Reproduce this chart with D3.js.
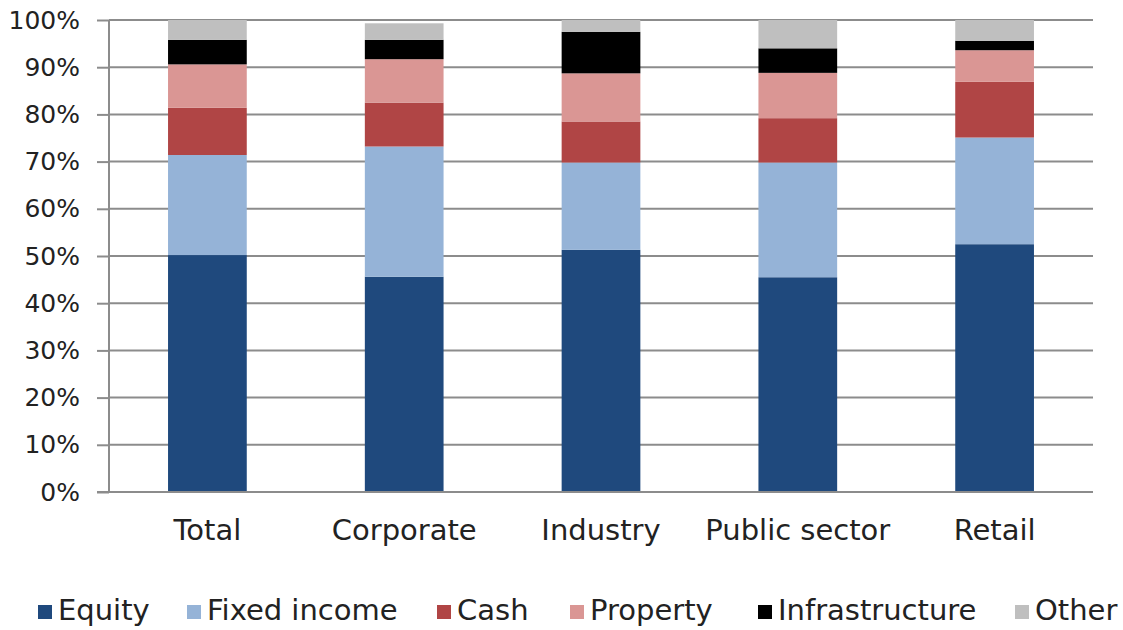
<!DOCTYPE html>
<html><head><meta charset="utf-8">
<script src="https://cdn.jsdelivr.net/npm/d3@7"></script>
<style>body{margin:0;background:#fff;} text{font-family:"DejaVu Sans",Verdana,sans-serif;fill:#222;}</style>
</head><body><svg id="c" width="1123" height="630"></svg>
<script>
const categories = ["Total","Corporate","Industry","Public sector","Retail"];
const seriesNames = ["Equity","Fixed income","Cash","Property","Infrastructure","Other"];
const equity        = [50.2, 45.6, 51.3, 45.5, 52.5];
const fixedIncome   = [21.2, 27.6, 18.5, 24.3, 22.6];
const cash          = [10.0,  9.3,  8.7,  9.4, 11.8];
const property      = [ 9.2,  9.2, 10.2,  9.6,  6.7];
const infrastructure= [ 5.2,  4.1,  8.8,  5.2,  2.0];
const other         = [ 4.2,  3.5,  2.5,  6.0,  4.4];
const yTicks = [0,10,20,30,40,50,60,70,80,90,100];
const colors = ["#1f497d","#95b3d7","#b04545","#da9694","#000000","#bfbfbf"];

const seriesVals = [equity, fixedIncome, cash, property, infrastructure, other];
const rows = categories.map((c,i)=>{const r={cat:c}; seriesNames.forEach((s,j)=>r[s]=seriesVals[j][i]); return r;});
const stack = d3.stack().keys(seriesNames)(rows);

const svg = d3.select("#c");
const L=109, R=1093, T=20, B=492;
const x = d3.scaleBand().domain(categories).range([L,R]).paddingInner(0.6).paddingOuter(0.3);
const y = d3.scaleLinear().domain([0,100]).range([B,T]);

// gridlines
svg.append("g").selectAll("line").data(yTicks.filter(t=>t>0)).join("line")
  .attr("x1",L).attr("x2",R).attr("y1",d=>y(d)).attr("y2",d=>y(d))
  .attr("stroke","#8c8c8c").attr("stroke-width",2);

// bars
svg.append("g").selectAll("g").data(stack).join("g").attr("fill",(d,i)=>colors[i])
  .selectAll("rect").data(d=>d).join("rect")
  .attr("x",d=>x(d.data.cat)).attr("width",x.bandwidth())
  .attr("y",d=>y(d[1])).attr("height",d=>y(d[0])-y(d[1]));

// y axis
const ya = svg.append("g").attr("transform",`translate(${L},0)`)
  .call(d3.axisLeft(y).tickValues(yTicks).tickFormat(d=>d+"%").tickSize(12).tickPadding(17));
ya.select(".domain").attr("stroke","#8c8c8c").attr("stroke-width",2).attr("d",`M0,${T}V${B}`);
ya.selectAll(".tick line").attr("stroke","#8c8c8c").attr("stroke-width",2);
ya.selectAll(".tick text").attr("font-size",25).attr("fill","#222").style("font-family","'DejaVu Sans'");

// x axis
const xa = svg.append("g").attr("transform",`translate(0,${B})`)
  .call(d3.axisBottom(x).tickSize(0));
xa.select(".domain").attr("stroke","#8c8c8c").attr("stroke-width",2).attr("d",`M97,0H${R}`);
xa.selectAll(".tick text").attr("font-size",29).attr("y",48).attr("dy",0).attr("fill","#222").style("font-family","'DejaVu Sans'");

// legend
const legX = [58, 207, 457, 590, 778, 1035];
const lg = svg.append("g").selectAll("g").data(seriesNames).join("g")
  .attr("transform",(d,i)=>`translate(${legX[i]},620)`);
lg.append("rect").attr("x",-20).attr("y",-15).attr("width",14).attr("height",14).attr("fill",(d,i)=>colors[i]);
lg.append("text").attr("x",0).attr("y",0).attr("font-size",29).text(d=>d);
</script></body></html>
